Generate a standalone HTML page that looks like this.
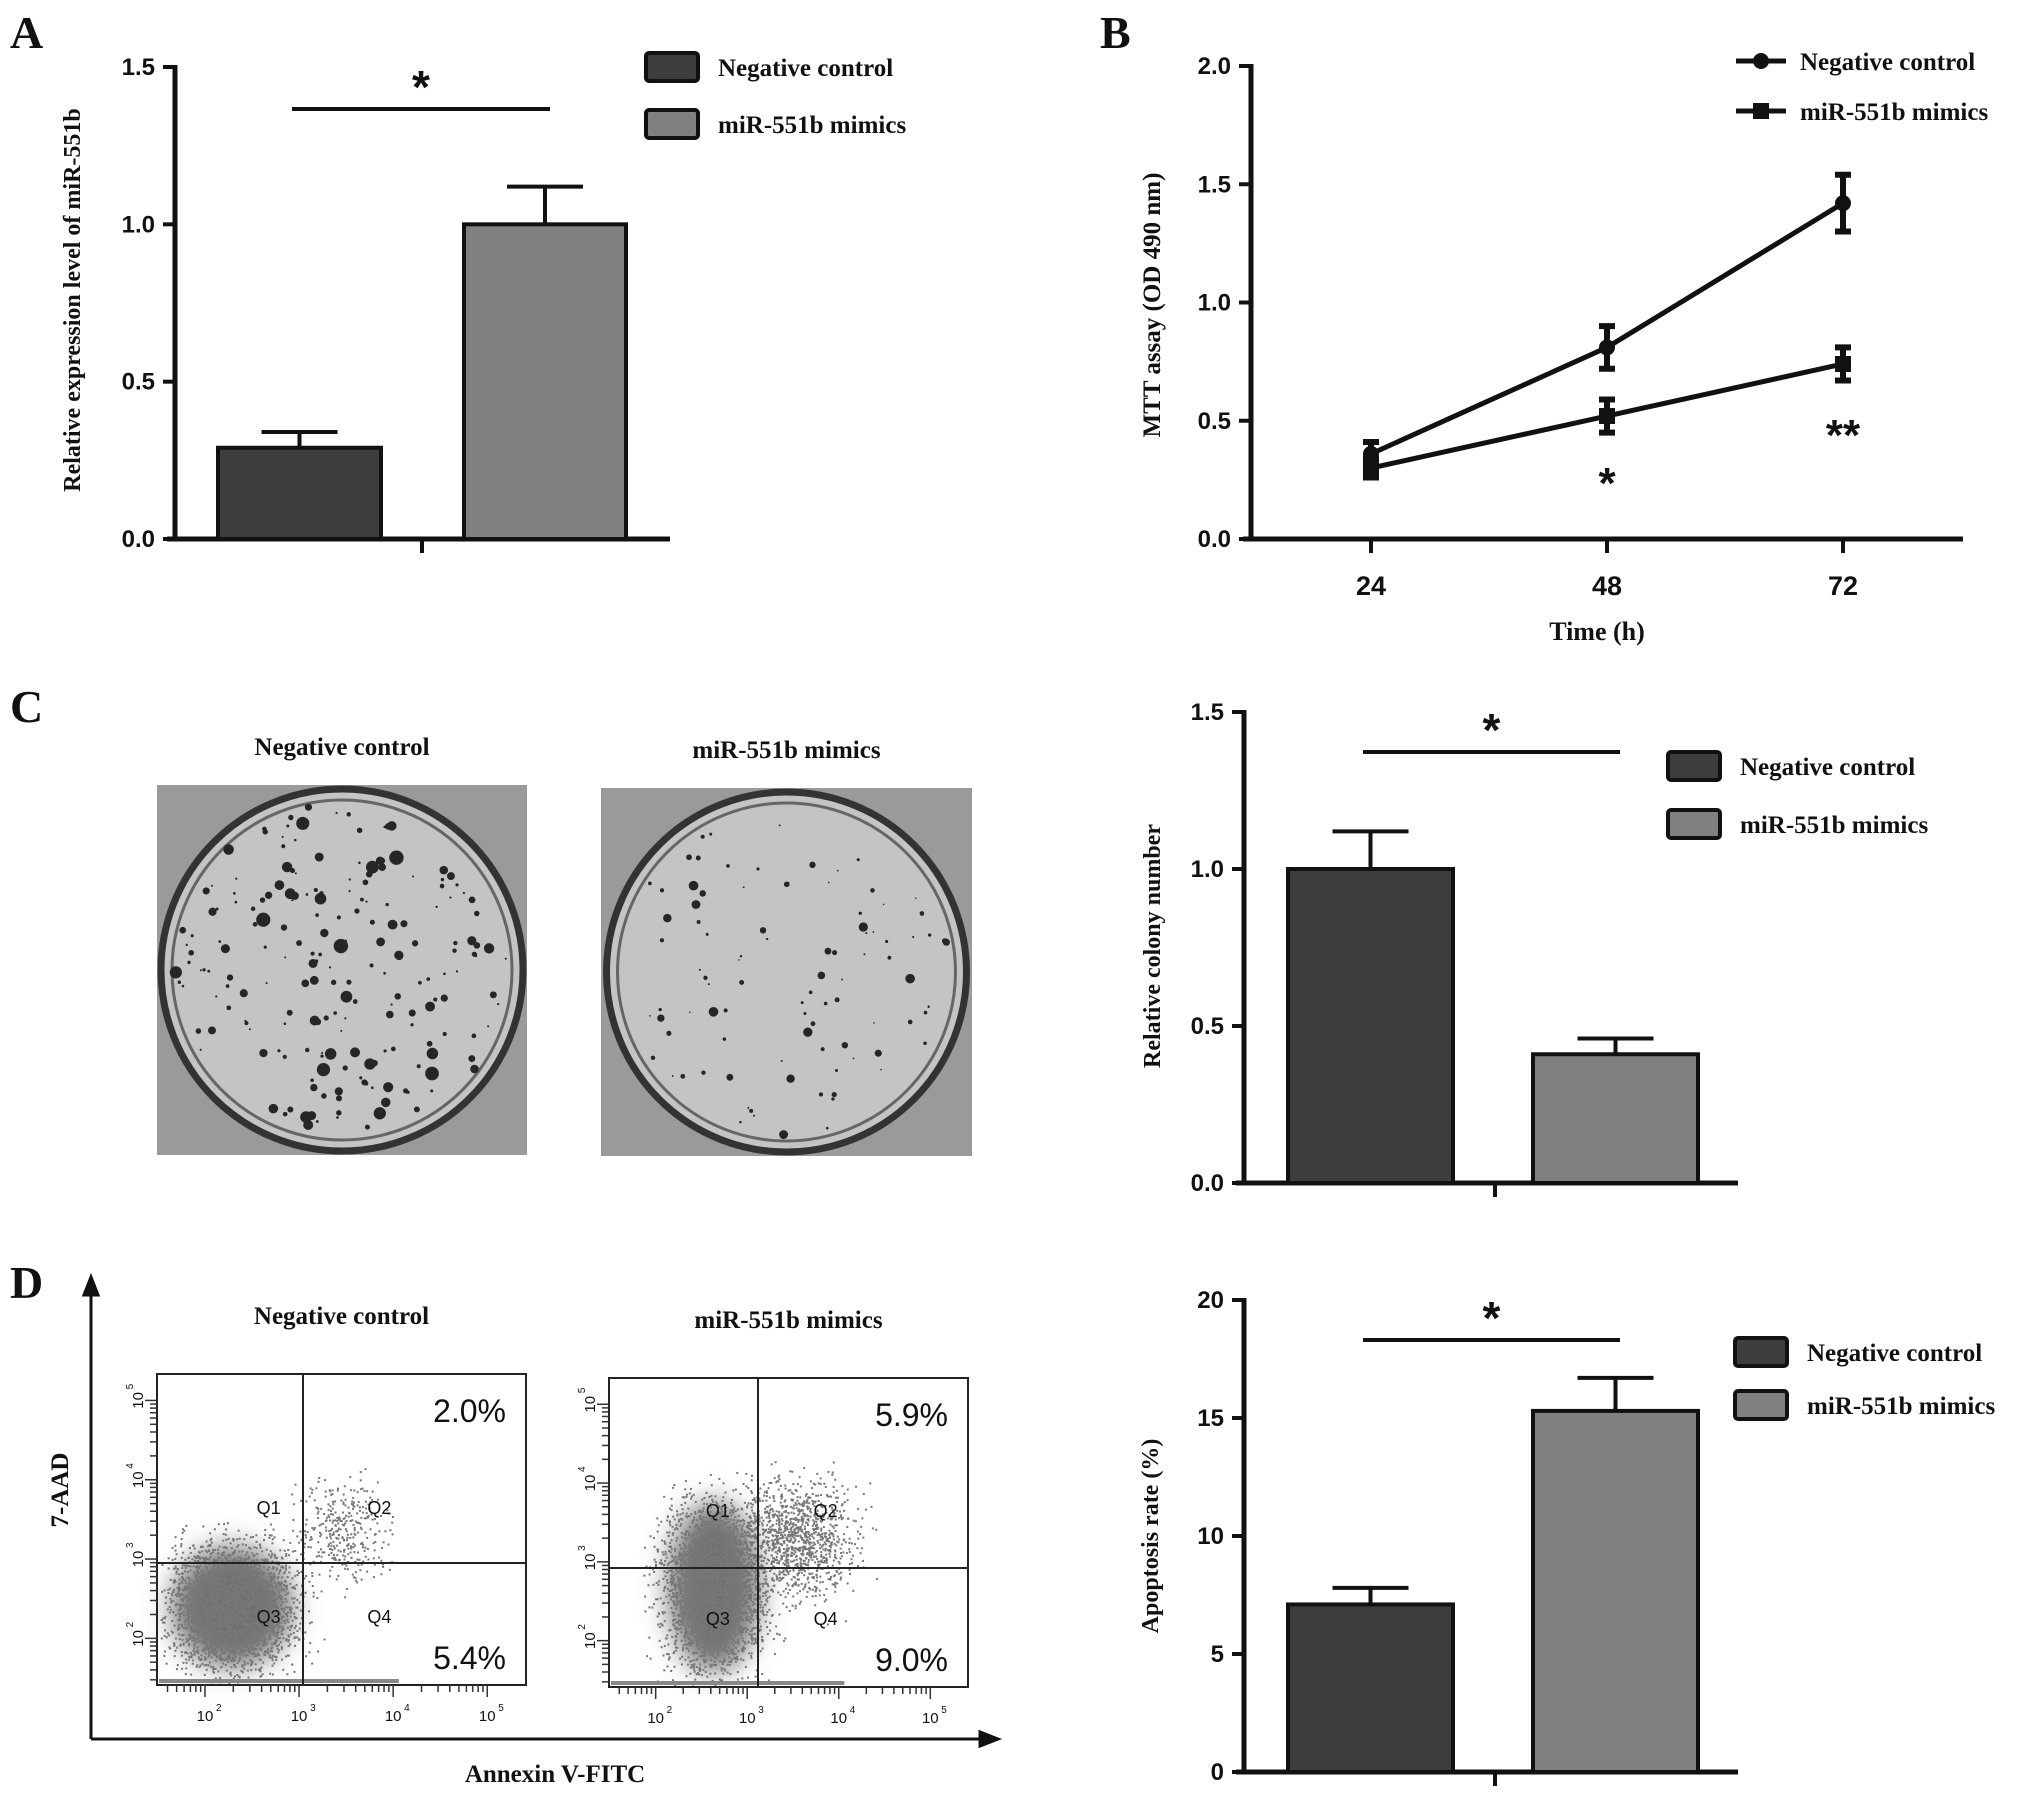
<!DOCTYPE html>
<html><head><meta charset="utf-8">
<style>
html,body{margin:0;padding:0;background:#fff;}
svg{display:block;}
text{font-family:"Liberation Serif",serif;font-weight:bold;fill:#111;}
.tk{font-family:"Liberation Sans",sans-serif;font-weight:bold;font-size:24px;}
</style></head>
<body>
<svg id="fig" width="2031" height="1804" viewBox="0 0 2031 1804" xmlns="http://www.w3.org/2000/svg">
<defs><filter id="blur" x="-50%" y="-50%" width="200%" height="200%"><feGaussianBlur stdDeviation="14"/></filter></defs>
<text x="10" y="48" font-size="46">A</text>
<text x="1100" y="48" font-size="46">B</text>
<text x="10" y="722" font-size="46">C</text>
<text x="10" y="1298" font-size="46">D</text>
<g id="gA"></g>
<g id="gB"></g>
<g id="gPlates"></g>
<g id="gC"></g>
<g id="gFlow"></g>
<g id="gD"></g>
</svg>
<script>
// ---- data ----
const groups = ["Negative control", "miR-551b mimics"];
const aValues = [0.29, 1.0];
const aErrors = [0.05, 0.12];
const aTicks = ["0.0", "0.5", "1.0", "1.5"];
const cValues = [1.0, 0.41];
const cErrors = [0.12, 0.05];
const cTicks = ["0.0", "0.5", "1.0", "1.5"];
const dValues = [7.1, 15.3];
const dErrors = [0.7, 1.4];
const dTicks = ["0", "5", "10", "15", "20"];
const bTimes = ["24", "48", "72"];
const bNC = [0.36, 0.81, 1.42];
const bNCerr = [0.05, 0.09, 0.12];
const bMim = [0.30, 0.52, 0.74];
const bMimErr = [0.04, 0.07, 0.07];
const bTicks = ["0.0", "0.5", "1.0", "1.5", "2.0"];
const flowTitles = ["Negative control", "miR-551b mimics"];
const flowQ2 = ["2.0%", "5.9%"];
const flowQ4 = ["5.4%", "9.0%"];

const NS = "http://www.w3.org/2000/svg";
function el(parent, tag, attrs, txt){
  const e = document.createElementNS(NS, tag);
  for (const k in attrs) e.setAttribute(k, attrs[k]);
  if (txt !== undefined) e.textContent = txt;
  parent.appendChild(e);
  return e;
}
const fills = ["#3d3d3d", "#808080"];

function barChart(g, cfg, values, errors, ticks){
  const ymax = parseFloat(ticks[ticks.length-1]);
  const y = v => cfg.y0 - (v/ymax)*(cfg.y0-cfg.ytop);
  const ax = el(g,"line",{x1:cfg.ax,y1:cfg.ytop-2,x2:cfg.ax,y2:cfg.y0,stroke:"#111","stroke-width":5});
  
  
  const bx = el(g,"line",{x1:cfg.ax-8,y1:cfg.y0,x2:cfg.xend,y2:cfg.y0,stroke:"#111","stroke-width":5});
  
  
  const ct = el(g,"line",{x1:cfg.ctr,y1:cfg.y0,x2:cfg.ctr,y2:cfg.y0+14,stroke:"#111","stroke-width":4});
  
  
  ticks.forEach(t=>{
    const v = parseFloat(t), yy = y(v);
    const tl = el(g,"line",{x1:cfg.ax-12,y1:yy,x2:cfg.ax,y2:yy,stroke:"#111","stroke-width":4});
    
    
    const tt = el(g,"text",{x:cfg.ax-20,y:yy+8,"text-anchor":"end",class:"tk"},t);
    
    
  });
  values.forEach((v,i)=>{
    const x0 = cfg.bars[i][0], x1 = cfg.bars[i][1], cx=(x0+x1)/2;
    const top = y(v+errors[i]);
    const eb = el(g,"path",{d:`M${cx},${y(v)} V${top} M${cx-38},${top} H${cx+38}`,stroke:"#111","stroke-width":4,fill:"none"});
    
    
    const r = el(g,"rect",{x:x0,y:y(v),width:x1-x0,height:cfg.y0-y(v),fill:fills[i],stroke:"#111","stroke-width":4});
    
    
  });
  const sl = el(g,"line",{x1:cfg.sig[0],y1:cfg.sig[2],x2:cfg.sig[1],y2:cfg.sig[2],stroke:"#111","stroke-width":4});
  
  
  const st = el(g,"text",{x:(cfg.sig[0]+cfg.sig[1])/2,y:cfg.sig[2]-6,"text-anchor":"middle",class:"tk",style:"font-size:46px"},"*");
  
  
  const yl = el(g,"text",{transform:`translate(${cfg.ylx},${cfg.yly}) rotate(-90)`,"text-anchor":"middle","font-size":24},cfg.ylabel);
  
  
  groups.forEach((gname,i)=>{
    const ly = cfg.leg[1] + i*cfg.leg[2];
    const lb = el(g,"rect",{x:cfg.leg[0],y:ly-14,width:52,height:28,rx:3,fill:fills[i],stroke:"#111","stroke-width":4});
    
    
    const lt = el(g,"text",{x:cfg.leg[0]+72,y:ly+9,"font-size":25},gname);
    
    
  });
}

barChart(document.getElementById("gA"),{ax:175,ytop:67,y0:539,xend:670,ctr:422,bars:[[218,381],[464,626]],sig:[292,550,109],ylx:80,yly:300,ylabel:"Relative expression level of miR-551b",leg:[646,67,57]},aValues,aErrors,aTicks);
barChart(document.getElementById("gC"),{ax:1244,ytop:712,y0:1183,xend:1738,ctr:1495,bars:[[1288,1453],[1533,1698]],sig:[1363,1620,752],ylx:1160,yly:946,ylabel:"Relative colony number",leg:[1668,766,58]},cValues,cErrors,cTicks);
barChart(document.getElementById("gD"),{ax:1244,ytop:1300,y0:1772,xend:1738,ctr:1495,bars:[[1288,1453],[1533,1698]],sig:[1363,1620,1340],ylx:1158,yly:1536,ylabel:"Apoptosis rate (%)",leg:[1735,1352,53]},dValues,dErrors,dTicks);

// ---- panel B line chart ----
(function(){
  const g = document.getElementById("gB");
  const ax=1251, y0=539, ytop=66, xend=1963;
  const xs = [1371,1607,1843];
  const ymax = parseFloat(bTicks[bTicks.length-1]);
  const y = v => y0 - (v/ymax)*(y0-ytop);
  const x = i => xs[0] + i*(xs[2]-xs[0])/(bTimes.length-1);
  let e = el(g,"line",{x1:ax,y1:ytop-2,x2:ax,y2:y0,stroke:"#111","stroke-width":5});
   
  e = el(g,"line",{x1:ax-8,y1:y0,x2:xend,y2:y0,stroke:"#111","stroke-width":5});
   
  bTicks.forEach(t=>{
    const yy=y(parseFloat(t));
    const l=el(g,"line",{x1:ax-12,y1:yy,x2:ax,y2:yy,stroke:"#111","stroke-width":4});
     
    const tt=el(g,"text",{x:ax-20,y:yy+8,"text-anchor":"end",class:"tk"},t);
     
  });
  bTimes.forEach((t,i)=>{
    const l=el(g,"line",{x1:x(i),y1:y0,x2:x(i),y2:y0+14,stroke:"#111","stroke-width":4});
     
    const tt=el(g,"text",{x:x(i),y:y0+56,"text-anchor":"middle",class:"tk",style:"font-size:27px"},t);
     
  });
  const series=[[bNC,bNCerr,"circle"],[bMim,bMimErr,"square"]];
  series.forEach((s,si)=>{
    const d = s[0].map((v,i)=>(i?"L":"M")+x(i)+","+y(v)).join(" ");
    const p=el(g,"path",{d:d,stroke:"#111","stroke-width":5,fill:"none"});
     
    s[0].forEach((v,i)=>{
      const cx=x(i), t=y(v+s[1][i]), b=y(v-s[1][i]);
      const eb=el(g,"path",{d:`M${cx},${t}V${b}M${cx-8},${t}H${cx+8}M${cx-8},${b}H${cx+8}`,stroke:"#111","stroke-width":6,fill:"none"});
       
      const m = s[2]==="circle" ? el(g,"circle",{cx:cx,cy:y(v),r:8,fill:"#111"}) : el(g,"rect",{x:cx-8,y:y(v)-8,width:16,height:16,fill:"#111"});
       
    });
    const ly = 61 + si*50;
    const ll=el(g,"line",{x1:1736,y1:ly,x2:1786,y2:ly,stroke:"#111","stroke-width":5});
     
    const lm = s[2]==="circle" ? el(g,"circle",{cx:1761,cy:ly,r:8,fill:"#111"}) : el(g,"rect",{x:1753,y:ly-8,width:16,height:16,fill:"#111"});
     
    const lt=el(g,"text",{x:1800,y:ly+9,"font-size":25},groups[si]);
     
  });
  let s1=el(g,"text",{x:x(1),y:498,"text-anchor":"middle",class:"tk",style:"font-size:44px"},"*");
   
  let s2=el(g,"text",{x:x(2),y:450,"text-anchor":"middle",class:"tk",style:"font-size:44px"},"**");
   
  let yl=el(g,"text",{transform:"translate(1160,305) rotate(-90)","text-anchor":"middle","font-size":25},"MTT assay (OD 490 nm)");
   
  let xl=el(g,"text",{x:1597,y:640,"text-anchor":"middle","font-size":26},"Time (h)");
   
})();

// ---- decorative images (deterministic texture) ----
let seed = 12345;
function rnd(){ seed = (seed*1103515245+12345) & 0x7fffffff; return seed/0x7fffffff; }
function gauss(){ return (rnd()+rnd()+rnd()+rnd()-2)*0.9; }

(function(){
  const g = document.getElementById("gPlates");
  const plates=[[157,785,370,370,"Negative control",200,1.0],[601,788,371,368,"miR-551b mimics",95,0.75]];
  plates.forEach((p,pi)=>{
    const t=el(g,"text",{x:p[0]+p[2]/2,y:p[1]-30,"text-anchor":"middle","font-size":25},p[4]);
     
    const r=el(g,"rect",{x:p[0],y:p[1],width:p[2],height:p[3],fill:"#9a9a9a"});
     
    const cx=p[0]+p[2]/2, cy=p[1]+p[3]/2, R=Math.min(p[2],p[3])/2-4;
    el(g,"circle",{cx:cx,cy:cy,r:R,fill:"#c4c4c4",stroke:"#333","stroke-width":7});
    el(g,"circle",{cx:cx,cy:cy,r:R-11,fill:"none",stroke:"#666","stroke-width":3});
    for(let k=0;k<p[5];k++){
      const a=rnd()*Math.PI*2, rr=(R-14)*Math.sqrt(rnd());
      const s=(1+rnd()*rnd()*7)*p[6];
      el(g,"circle",{cx:cx+rr*Math.cos(a),cy:cy+rr*Math.sin(a),r:s,fill:"#262626"});
    }
  });
})();

(function(){
  const g = document.getElementById("gFlow");
  let a=el(g,"path",{d:"M91,1739 V1285 M91,1277 l-7,18 h14 z M91,1739 H990 M998,1739 l-18,-7 v14 z",stroke:"#111","stroke-width":3,fill:"#111"});
   
  let xl=el(g,"text",{x:555,y:1782,"text-anchor":"middle","font-size":25},"Annexin V-FITC");
   
  let yl=el(g,"text",{transform:"translate(68,1490) rotate(-90)","text-anchor":"middle","font-size":25},"7-AAD");
   
  const plots=[[157,1374,526,1685,303,1563,0],[609,1378,968,1687,758,1568,1]];
  plots.forEach((p,pi)=>{
    const [x0,y0,x1,y1,qx,qy]=p;
    const t=el(g,"text",{x:(x0+x1)/2,y:y0-50,"text-anchor":"middle","font-size":25},flowTitles[pi]);
     
    const dg=el(g,"g",{fill:"#777"});
     
    const ccx = pi? x0+105 : x0+75, ccy = pi? y1-100 : y1-78;
    el(dg,"ellipse",{cx:ccx,cy:ccy,rx:pi?45:60,ry:pi?85:60,fill:"#6e6e6e",filter:"url(#blur)"});
    for(let k=0;k<3000;k++){
      let px=ccx+gauss()*(pi?50:60), py=ccy+gauss()*(pi?80:60);
      if(px<x0+2||px>x1-2||py<y0+2||py>y1-2) continue;
      el(dg,"rect",{x:px,y:py,width:2,height:2});
    }
    const nq2 = pi?1100:350;
    for(let k=0;k<nq2;k++){
      let px=qx+40+gauss()*(pi?55:45), py=qy-30+gauss()*(pi?55:50);
      if(px<x0+2||px>x1-2||py<y0+2||py>y1-2) continue;
      el(dg,"rect",{x:px,y:py,width:2,height:2});
    }
    el(dg,"rect",{x:x0+2,y:y1-6,width:(x1-x0)*0.65,height:4,fill:"#888"});
    const r=el(g,"rect",{x:x0,y:y0,width:x1-x0,height:y1-y0,fill:"none",stroke:"#222","stroke-width":2});
     
    el(g,"line",{x1:qx,y1:y0,x2:qx,y2:y1,stroke:"#222","stroke-width":2});
    el(g,"line",{x1:x0,y1:qy,x2:x1,y2:qy,stroke:"#222","stroke-width":2});
    const w=x1-x0;
    [["Q1",x0+0.27*w,y0+0.45*(y1-y0)],["Q2",x0+0.57*w,y0+0.45*(y1-y0)],["Q3",x0+0.27*w,y0+0.80*(y1-y0)],["Q4",x0+0.57*w,y0+0.80*(y1-y0)]].forEach(q=>{
      const qt=el(g,"text",{x:q[1],y:q[2],"font-size":18,style:"font-family:'Liberation Sans',sans-serif;font-weight:normal",fill:"#222"},q[0]);
       
    });
    const p2=el(g,"text",{x:x1-20,y:y0+48,"text-anchor":"end","font-size":32,style:"font-family:'Liberation Sans',sans-serif;font-weight:normal"},flowQ2[pi]);
     
    const p4=el(g,"text",{x:x1-20,y:y1-16,"text-anchor":"end","font-size":32,style:"font-family:'Liberation Sans',sans-serif;font-weight:normal"},flowQ4[pi]);
     
    const dec=["2","3","4","5"];
    dec.forEach((d,di)=>{
      const tx=x0+0.13*w+di*0.255*w;
      const tl=el(g,"text",{x:tx,y:y1+36,"text-anchor":"middle","font-size":15,style:"font-family:'Liberation Sans',sans-serif;font-weight:normal"},"10");
       
      el(g,"text",{x:tx+11,y:y1+26,"font-size":10,style:"font-family:'Liberation Sans',sans-serif;font-weight:normal"},d);
      for(let m=0;m<9;m++){ const mx=tx-0.255*w+0.255*w*Math.log10(m+2); if(mx>x0) el(g,"line",{x1:mx,y1:y1,x2:mx,y2:y1+(m==8?12:7),stroke:"#333","stroke-width":1.5}); }
      const ty=y1-0.15*(y1-y0)-di*0.255*(y1-y0);
      const yt=el(g,"text",{transform:`translate(${x0-14},${ty}) rotate(-90)`,"text-anchor":"middle","font-size":15,style:"font-family:'Liberation Sans',sans-serif;font-weight:normal"},"10");
       
      el(g,"text",{transform:`translate(${x0-24},${ty-11}) rotate(-90)`,"font-size":10,style:"font-family:'Liberation Sans',sans-serif;font-weight:normal"},d);
      for(let m=0;m<9;m++){ const my=ty+0.255*(y1-y0)-0.255*(y1-y0)*Math.log10(m+2); if(my<y1) el(g,"line",{x1:x0,y1:my,x2:x0-(m==8?12:7),y2:my,stroke:"#333","stroke-width":1.5}); }
    });
  });
})();
</script>
</body></html>
